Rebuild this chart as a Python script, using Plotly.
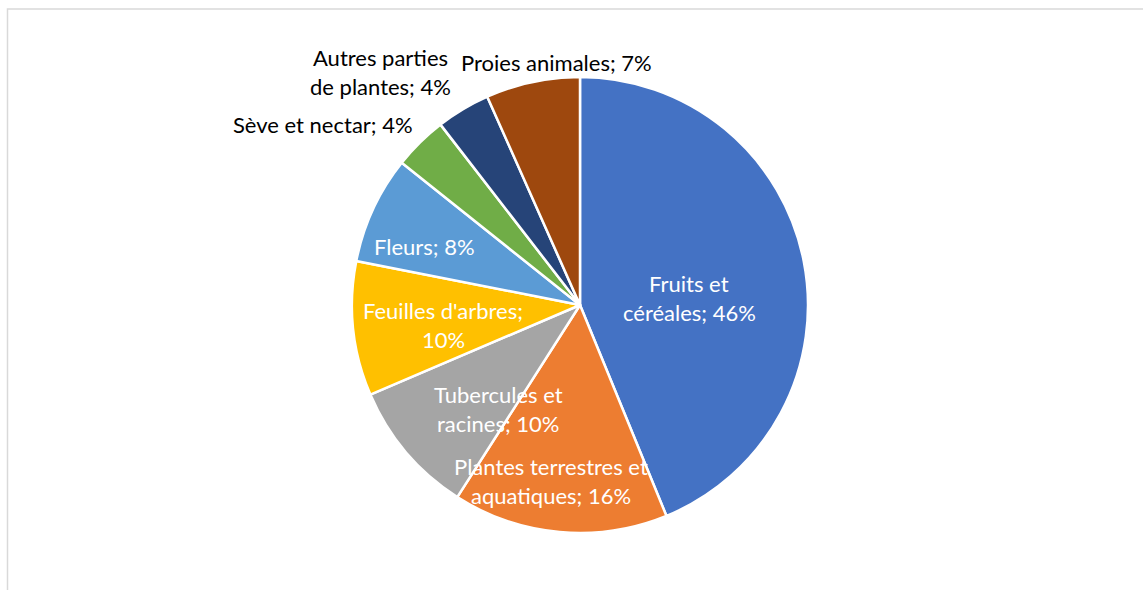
import plotly.graph_objects as go

# ---- data ----
categories = ["Fruits et céréales", "Plantes terrestres et aquatiques", "Tubercules et racines",
              "Feuilles d'arbres", "Fleurs", "Sève et nectar", "Autres parties de plantes",
              "Proies animales"]
values = [46, 16, 10, 10, 8, 4, 4, 7]
colors = ["#4472C4", "#ED7D31", "#A5A5A5", "#FFC000", "#5B9BD5", "#70AD47", "#264478", "#9E480E"]

# label lines (text) as shown on chart
label_lines = [
    ["Fruits et", "céréales; 46%"],
    ["Plantes terrestres et", "aquatiques; 16%"],
    ["Tubercules et", "racines; 10%"],
    ["Feuilles d'arbres;", "10%"],
    ["Fleurs; 8%"],
    ["Sève et nectar; 4%"],
    ["Autres parties", "de plantes; 4%"],
    ["Proies animales; 7%"],
]

# ---- layout / style ----
W, H = 1143, 590
cx, cy, r = 580, 305, 228
label_pos = [(689, 298), (551, 481), (498, 409), (443, 325), (424, 246),
             (323, 124), (380, 72), (556, 63)]
label_inside = [True, True, True, True, True, False, False, False]
line_gap = 29
font_family = "Lato, 'Open Sans', sans-serif"
font_size = 22

fig = go.Figure(go.Pie(
    labels=categories,
    values=values,
    sort=False,
    direction="clockwise",
    rotation=0,
    marker=dict(colors=colors, line=dict(color="white", width=2.5)),
    textinfo="none",
    hoverinfo="label+value",
    domain=dict(x=[(cx - r) / W, (cx + r) / W], y=[(H - cy - r) / H, (H - cy + r) / H]),
))

annotations = []
for lines, (px, py), inside in zip(label_lines, label_pos, label_inside):
    n = len(lines)
    for i, t in enumerate(lines):
        ly = py + (i - (n - 1) / 2) * line_gap
        annotations.append(dict(
            text=t, x=px / W, y=1 - ly / H, xref="paper", yref="paper",
            xanchor="center", yanchor="middle", showarrow=False,
            font=dict(family=font_family, size=font_size,
                      color="white" if inside else "#000000"),
        ))

fig.update_layout(
    width=W, height=H,
    margin=dict(l=0, r=0, t=0, b=0),
    paper_bgcolor="white",
    showlegend=False,
    annotations=annotations,
    shapes=[dict(type="rect", xref="paper", yref="paper",
                 x0=7.5 / W, x1=1.05, y0=-0.05, y1=1 - 9 / H,
                 line=dict(color="#D9D9D9", width=1.5), fillcolor="rgba(0,0,0,0)",
                 layer="below")],
)

fig.write_html("out.html", config={"displayModeBar": False},
               post_script="document.body.style.margin='0';document.body.style.overflow='hidden';")
